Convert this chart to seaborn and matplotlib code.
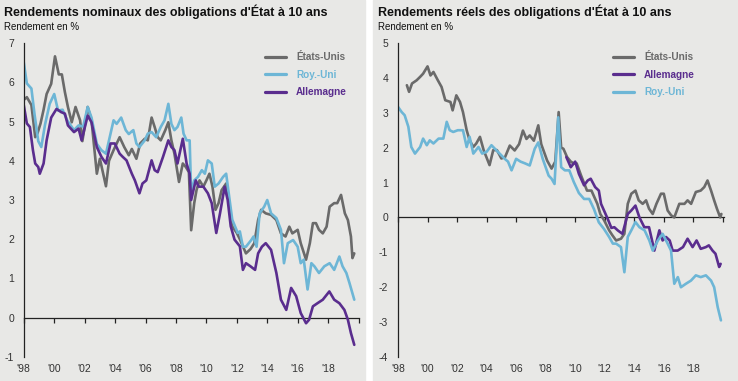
import numpy as np
import pandas as pd
import matplotlib
matplotlib.use("Agg")
import matplotlib.pyplot as plt
from matplotlib.patches import Rectangle
import seaborn as sns

# ---- nominal 10y yields (left panel) ----
us_nom_years = [1998.0, 1998.2, 1998.5, 1998.75, 1998.9, 1999.1, 1999.3, 1999.5, 1999.8, 2000.05,
                2000.3, 2000.5, 2000.7, 2000.9, 2001.15, 2001.4, 2001.7, 2001.85, 2002.2, 2002.45,
                2002.8, 2003.0, 2003.4, 2003.6, 2003.9, 2004.3, 2004.6, 2004.9, 2005.1, 2005.4,
                2005.65, 2005.95, 2006.15, 2006.4, 2006.6, 2006.8, 2007.0, 2007.3, 2007.5, 2007.7,
                2007.9, 2008.2, 2008.45, 2008.65, 2008.85, 2009.0, 2009.2, 2009.35, 2009.55, 2009.8,
                2010.0, 2010.2, 2010.4, 2010.6, 2010.8, 2011.0, 2011.3, 2011.5, 2011.7, 2012.0,
                2012.2, 2012.4, 2012.6, 2012.9, 2013.15, 2013.4, 2013.6, 2013.9, 2014.25, 2014.6,
                2014.9, 2015.2, 2015.45, 2015.65, 2016.0, 2016.2, 2016.55, 2016.8, 2017.0, 2017.2,
                2017.4, 2017.65, 2017.9, 2018.1, 2018.4, 2018.6, 2018.85, 2019.1, 2019.3, 2019.5,
                2019.6, 2019.72]
us_nom = [5.55, 5.62, 5.42, 4.6, 4.7, 4.95, 5.3, 5.7, 5.96, 6.66,
          6.2, 6.2, 5.75, 5.37, 4.98, 5.37, 5.03, 4.5, 5.37, 5.03,
          3.67, 4.05, 3.35, 4.0, 4.27, 4.6, 4.35, 4.14, 4.3, 4.05,
          4.44, 4.56, 4.52, 5.1, 4.86, 4.6, 4.52, 4.78, 4.98, 4.52,
          4.18, 3.46, 3.93, 3.84, 3.71, 2.23, 2.92, 3.25, 3.5, 3.34,
          3.5, 3.67, 3.34, 2.75, 2.92, 3.25, 3.42, 2.92, 2.33, 2.16,
          2.0, 1.82, 1.64, 1.75, 1.9, 2.49, 2.75, 2.66, 2.62, 2.49,
          2.15, 2.07, 2.32, 2.15, 2.24, 1.9, 1.48, 1.9, 2.41, 2.41,
          2.24, 2.15, 2.32, 2.83, 2.92, 2.92, 3.13, 2.66, 2.49, 2.07,
          1.52, 1.64]

uk_nom_years = [1998.0, 1998.2, 1998.5, 1998.7, 1998.95, 1999.15, 1999.4, 1999.7, 2000.0, 2000.25,
                2000.55, 2000.85, 2001.3, 2001.6, 2001.9, 2002.2, 2002.45, 2002.8, 2003.1, 2003.4,
                2003.9, 2004.1, 2004.4, 2004.7, 2004.9, 2005.1, 2005.2, 2005.4, 2005.6, 2005.95,
                2006.15, 2006.4, 2006.7, 2007.0, 2007.25, 2007.5, 2007.7, 2007.9, 2008.1, 2008.35,
                2008.5, 2008.7, 2008.9, 2009.0, 2009.2, 2009.45, 2009.7, 2009.9, 2010.1, 2010.35,
                2010.55, 2010.8, 2011.1, 2011.3, 2011.5, 2011.7, 2012.06, 2012.2, 2012.4, 2012.6,
                2012.95, 2013.1, 2013.3, 2013.5, 2013.8, 2014.0, 2014.25, 2014.6, 2014.9, 2015.1,
                2015.35, 2015.7, 2016.0, 2016.2, 2016.4, 2016.65, 2016.9, 2017.1, 2017.4, 2017.75,
                2018.1, 2018.4, 2018.74, 2018.95, 2019.2, 2019.4, 2019.72]
uk_nom = [6.5, 5.97, 5.84, 5.2, 4.5, 4.35, 4.93, 5.45, 5.7, 5.28,
          5.3, 5.03, 4.78, 4.9, 4.87, 5.37, 5.1, 4.43, 4.27, 4.18,
          5.03, 4.94, 5.1, 4.78, 4.68, 4.75, 4.78, 4.44, 4.35, 4.52,
          4.69, 4.73, 4.6, 4.86, 5.03, 5.45, 4.94, 4.78, 4.86, 5.1,
          4.69, 4.52, 4.52, 3.17, 3.5, 3.59, 3.76, 3.67, 4.01, 3.93,
          3.34, 3.42, 3.59, 3.67, 3.08, 2.5, 2.16, 2.2, 1.81, 1.81,
          1.98, 2.07, 1.81, 2.66, 2.83, 3.0, 2.66, 2.54, 2.24, 1.39,
          1.9, 1.98, 1.81, 1.39, 1.48, 0.72, 1.39, 1.31, 1.14, 1.31,
          1.39, 1.22, 1.56, 1.31, 1.14, 0.89, 0.46]

de_nom_years = [1998.0, 1998.2, 1998.4, 1998.6, 1998.75, 1998.95, 1999.05, 1999.3, 1999.5, 1999.8,
                2000.15, 2000.45, 2000.7, 2000.9, 2001.3, 2001.6, 2001.8, 2002.2, 2002.45, 2002.8,
                2003.1, 2003.4, 2003.7, 2003.98, 2004.3, 2004.5, 2004.75, 2005.1, 2005.3, 2005.6,
                2005.8, 2006.05, 2006.4, 2006.6, 2006.8, 2007.15, 2007.5, 2007.7, 2007.9, 2008.1,
                2008.45, 2008.7, 2008.9, 2009.0, 2009.3, 2009.5, 2009.8, 2010.1, 2010.35, 2010.65,
                2010.9, 2011.2, 2011.4, 2011.6, 2011.85, 2012.2, 2012.4, 2012.6, 2012.9, 2013.2,
                2013.4, 2013.65, 2013.9, 2014.25, 2014.6, 2014.9, 2015.25, 2015.57, 2015.9, 2016.2,
                2016.55, 2016.75, 2017.0, 2017.3, 2017.65, 2018.08, 2018.4, 2018.74, 2019.07, 2019.3,
                2019.5, 2019.72]
de_nom = [5.41, 4.95, 4.86, 4.27, 3.93, 3.84, 3.67, 3.93, 4.52, 5.1,
          5.32, 5.24, 5.2, 4.9, 4.73, 4.82, 4.52, 5.15, 4.98, 4.35,
          4.1, 3.93, 4.44, 4.44, 4.18, 4.1, 4.01, 3.67, 3.5, 3.17,
          3.42, 3.5, 4.01, 3.76, 3.71, 4.1, 4.52, 4.35, 4.27, 3.93,
          4.56, 3.93, 3.67, 3.0, 3.5, 3.34, 3.34, 3.17, 2.92, 2.16,
          2.67, 3.34, 3.0, 2.33, 1.99, 1.82, 1.22, 1.39, 1.31, 1.22,
          1.64, 1.81, 1.9, 1.73, 1.14, 0.46, 0.2, 0.76, 0.55, 0.12,
          -0.14, -0.05, 0.29, 0.37, 0.46, 0.67, 0.46, 0.37, 0.2, -0.05,
          -0.39, -0.69]

# ---- real 10y yields (right panel) ----
us_real_years = [1998.6, 1998.75, 1998.95, 1999.26, 1999.5, 1999.7, 2000.0, 2000.2, 2000.4, 2000.7,
                 2000.95, 2001.2, 2001.55, 2001.7, 2001.95, 2002.2, 2002.4, 2002.65, 2002.85, 2003.1,
                 2003.3, 2003.55, 2003.8, 2004.2, 2004.45, 2004.7, 2005.0, 2005.25, 2005.57, 2005.9,
                 2006.2, 2006.46, 2006.7, 2006.92, 2007.2, 2007.5, 2007.7, 2008.1, 2008.4, 2008.65,
                 2008.88, 2009.05, 2009.2, 2009.45, 2009.7, 2009.9, 2010.1, 2010.4, 2010.8, 2011.1,
                 2011.5, 2011.7, 2011.97, 2012.3, 2012.5, 2012.77, 2013.1, 2013.33, 2013.56, 2013.8,
                 2014.08, 2014.3, 2014.57, 2014.8, 2015.0, 2015.25, 2015.5, 2015.81, 2016.0, 2016.26,
                 2016.5, 2016.71, 2017.05, 2017.4, 2017.61, 2017.85, 2018.17, 2018.5, 2018.74, 2018.96,
                 2019.2, 2019.41, 2019.6, 2019.82, 2019.9]
us_real = [3.79, 3.6, 3.84, 3.93, 4.03, 4.12, 4.33, 4.07, 4.17, 3.93,
           3.74, 3.36, 3.31, 3.07, 3.5, 3.31, 3.02, 2.5, 2.21, 2.02,
           2.12, 2.31, 1.93, 1.5, 1.93, 1.93, 1.69, 1.73, 2.06, 1.92,
           2.1, 2.49, 2.25, 2.35, 2.2, 2.64, 2.1, 1.63, 1.4, 1.6,
           3.02, 2.0, 1.97, 1.73, 1.6, 1.55, 1.55, 1.2, 0.77, 0.77,
           0.39, 0.1, -0.09, -0.37, -0.5, -0.66, -0.61, -0.47, 0.39, 0.68,
           0.77, 0.49, 0.39, 0.49, 0.25, 0.1, 0.39, 0.68, 0.68, 0.2,
           0.06, 0.0, 0.39, 0.39, 0.49, 0.39, 0.73, 0.77, 0.87, 1.06,
           0.77, 0.49, 0.25, 0.0, 0.1]

de_real_years = [2009.4, 2009.7, 2010.0, 2010.25, 2010.6, 2010.85, 2011.05, 2011.35, 2011.6, 2011.75,
                 2011.95, 2012.2, 2012.45, 2012.65, 2012.88, 2013.2, 2013.56, 2013.8, 2014.08, 2014.35,
                 2014.68, 2015.0, 2015.36, 2015.7, 2015.92, 2016.15, 2016.4, 2016.6, 2016.94, 2017.3,
                 2017.61, 2017.95, 2018.22, 2018.5, 2018.85, 2019.05, 2019.3, 2019.5, 2019.75, 2019.85]
de_real = [1.73, 1.44, 1.6, 1.25, 0.92, 1.06, 1.11, 0.87, 0.77, 0.39,
           0.2, -0.04, -0.3, -0.28, -0.37, -0.47, 0.1, 0.2, 0.34, 0.0,
           -0.28, -0.28, -0.95, -0.37, -0.66, -0.56, -0.66, -0.95, -0.95, -0.85,
           -0.61, -0.85, -0.66, -0.9, -0.85, -0.8, -0.95, -1.04, -1.42, -1.33]

uk_real_years = [1998.0, 1998.25, 1998.45, 1998.7, 1998.9, 1999.15, 1999.5, 1999.7, 1999.95, 2000.15,
                 2000.4, 2000.75, 2001.07, 2001.3, 2001.5, 2001.74, 2002.05, 2002.4, 2002.65, 2002.85,
                 2003.1, 2003.45, 2003.7, 2004.0, 2004.33, 2004.65, 2005.0, 2005.23, 2005.45, 2005.69,
                 2006.0, 2006.3, 2006.6, 2006.92, 2007.26, 2007.5, 2007.8, 2008.2, 2008.4, 2008.6,
                 2008.85, 2009.05, 2009.3, 2009.6, 2009.9, 2010.25, 2010.6, 2010.95, 2011.27, 2011.6,
                 2011.95, 2012.3, 2012.55, 2012.77, 2013.1, 2013.33, 2013.56, 2013.8, 2014.08, 2014.35,
                 2014.7, 2015.02, 2015.25, 2015.6, 2015.92, 2016.26, 2016.49, 2016.71, 2016.95, 2017.16,
                 2017.5, 2017.84, 2018.17, 2018.5, 2018.85, 2019.2, 2019.41, 2019.65, 2019.87]
uk_real = [3.17, 3.02, 2.93, 2.6, 2.02, 1.83, 2.02, 2.26, 2.07, 2.21,
           2.12, 2.26, 2.26, 2.74, 2.5, 2.45, 2.5, 2.5, 2.02, 2.31,
           1.83, 2.02, 1.83, 1.88, 2.07, 1.93, 1.78, 1.68, 1.6, 1.35,
           1.68, 1.6, 1.55, 1.49, 1.97, 2.15, 1.68, 1.2, 1.11, 0.96,
           2.87, 1.44, 1.35, 1.35, 1.02, 0.7, 0.53, 0.53, 0.24, -0.14,
           -0.33, -0.56, -0.75, -0.75, -0.85, -1.57, -0.56, -0.37, -0.13, -0.28,
           -0.37, -0.66, -0.95, -0.66, -0.47, -0.75, -0.95, -1.9, -1.71, -2.0,
           -1.9, -1.81, -1.66, -1.71, -1.66, -1.81, -2.0, -2.57, -2.95]

year_ticks = list(range(1998, 2021, 2))
year_labels = ["'98", "'00", "'02", "'04", "'06", "'08", "'10", "'12", "'14", "'16", "'18", ""]

gray = "#6a6a6a"
blue = "#6db6d6"
purple = "#5a2d8e"
bg = "#e8e8e6"

sns.set_style("white")
plt.rcParams['font.family'] = ["Liberation Sans", "DejaVu Sans"]
plt.rcParams['axes.unicode_minus'] = False

fig = plt.figure(figsize=(7.38, 3.81), dpi=100)
fig.patch.set_facecolor("white")
fig.patches.append(Rectangle((0, 0), 365 / 738, 1, transform=fig.transFigure, color=bg, zorder=-10))
fig.patches.append(Rectangle((373 / 738, 0), 365 / 738, 1, transform=fig.transFigure, color=bg, zorder=-10))

ax1 = fig.add_axes([23.8 / 738, 24 / 381, 335.5 / 738, 314 / 381])
ax2 = fig.add_axes([398 / 738, 24 / 381, 325.6 / 738, 314 / 381])


def series_frame(years, vals, name):
    return pd.DataFrame({"year": years, "val": vals, "pays": name})


left = pd.concat([series_frame(us_nom_years, us_nom, "États-Unis"),
                  series_frame(uk_nom_years, uk_nom, "Roy.-Uni"),
                  series_frame(de_nom_years, de_nom, "Allemagne")])
right = pd.concat([series_frame(us_real_years, us_real, "États-Unis"),
                   series_frame(de_real_years, de_real, "Allemagne"),
                   series_frame(uk_real_years, uk_real, "Roy.-Uni")])

pal = {"États-Unis": gray, "Roy.-Uni": blue, "Allemagne": purple}

sns.lineplot(data=left, x="year", y="val", hue="pays", palette=pal, ax=ax1,
             linewidth=1.9, estimator=None, sort=False)
sns.lineplot(data=right, x="year", y="val", hue="pays", palette=pal, ax=ax2,
             linewidth=1.9, estimator=None, sort=False)

panels = [(ax1, -1, 7, "Rendements nominaux des obligations d'État à 10 ans", 4 / 738, (0.99, 1.0)),
          (ax2, -4, 5, "Rendements réels des obligations d'État à 10 ans", 378 / 738, (0.94, 1.0))]

for ax, ylo, yhi, title, tx, anchor in panels:
    ax.set_facecolor("none")
    ax.set_xlim(1998, 2020.05)
    ax.set_ylim(ylo, yhi)
    ax.set_yticks(range(ylo, yhi + 1))
    ax.set_xlabel("")
    ax.set_ylabel("")
    for s in ["top", "right", "bottom"]:
        ax.spines[s].set_visible(False)
    ax.spines["left"].set_color("#222222")
    ax.spines["left"].set_linewidth(0.9)
    ax.tick_params(axis="y", direction="out", length=4, width=0.9, color="#222222",
                   labelsize=7.5, labelcolor="#333333", pad=3)
    # x labels at bottom, ticks on the zero line
    ax.set_xticks(year_ticks)
    ax.set_xticklabels(year_labels)
    ax.tick_params(axis="x", length=0, labelsize=7.5, labelcolor="#333333", pad=5)
    sec = ax.secondary_xaxis((0 - ylo) / (yhi - ylo))
    sec.set_xticks(year_ticks)
    sec.set_xticklabels([])
    sec.spines["bottom"].set_color("#222222")
    sec.spines["bottom"].set_linewidth(0.9)
    sec.tick_params(axis="x", direction="out", length=3.5, width=0.9, color="#222222")
    leg = ax.legend(loc="upper right", bbox_to_anchor=anchor, frameon=False,
                    handlelength=2.1, handletextpad=1.0, labelspacing=0.75,
                    prop={"size": 7.2, "weight": "bold"}, labelcolor="linecolor", title=None)
    for ln in leg.get_lines():
        ln.set_linewidth(2.3)
    fig.text(tx, 1 - 12 / 381, title, fontsize=9, fontweight="bold", color="#111111", va="center")
    fig.text(tx, 1 - 27 / 381, "Rendement en %", fontsize=7, color="#111111", va="center")

fig.savefig("out.png", dpi=100, facecolor=fig.get_facecolor())
